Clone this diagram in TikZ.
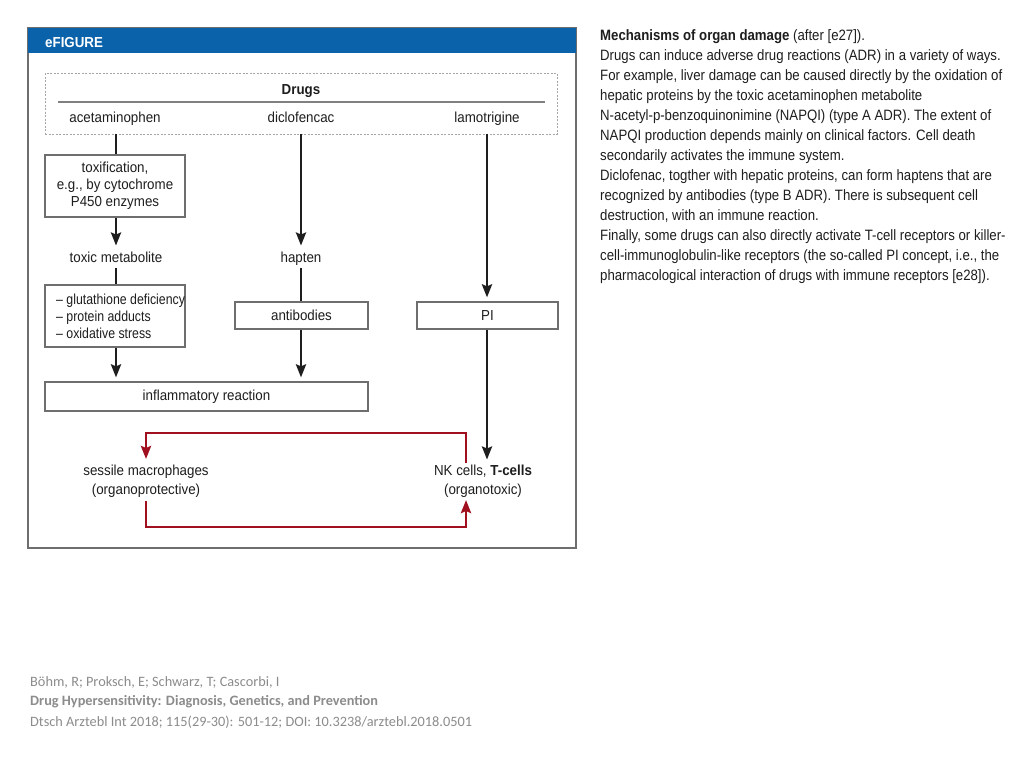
\documentclass[tikz,border=0pt]{standalone}
\usepackage{fontspec}
\setmainfont{Liberation Sans}
\newfontfamily\diag{Liberation Sans}[FakeStretch=0.92]
\newfontfamily\diagn{Liberation Sans}[FakeStretch=0.85]
\newfontfamily\bodyf{Liberation Sans}[FakeStretch=0.88]
\newfontfamily\footf{Carlito}
\usetikzlibrary{arrows.meta}
\definecolor{hdrblue}{RGB}{10,98,170}
\definecolor{darkred}{RGB}{160,16,30}
\definecolor{framegray}{RGB}{110,110,110}
\definecolor{footgray}{RGB}{140,140,140}
\definecolor{inkc}{RGB}{30,30,30}
\begin{document}
\begin{tikzpicture}[x=1pt,y=-1pt,
  lbl/.style={font=\diag\fontsize{14.5}{17}\selectfont, inner sep=1pt, text=inkc, align=center},
  oneline/.style={lbl, text height=10.5pt, text depth=3pt},
  box/.style={lbl, draw=framegray, line width=1.2pt, inner sep=0pt},
  conn/.style={line width=2.8pt, inkc},
  arr/.style={conn, -{Stealth[length=13pt,width=10pt,inset=2pt]}},
  redarr/.style={line width=2.8pt, darkred, -{Stealth[length=13pt,width=10pt,inset=2pt]}}
]
\useasboundingbox (0,0) rectangle (1024,768);
\fill[white] (0,0) rectangle (1024,768);

% frame and header
\draw[framegray, line width=1.2pt] (28,28) rectangle (576,548);
\fill[hdrblue] (28,28) rectangle (576,53.5);
\node[anchor=west, text=white, font=\diag\fontsize{14.5}{17}\bfseries\selectfont, inner sep=0pt] (hdr) at (45,43) {eFIGURE};

% drugs box
\node[draw=gray!70, line width=0.9pt, dash pattern=on 2pt off 1.5pt, minimum width=512, minimum height=61, inner sep=0pt] (drugsbox) at (301,103.5) {};
\node[oneline, font=\diag\fontsize{14.5}{17}\bfseries\selectfont] (drugs) at (301,90.5) {Drugs};
\draw[gray, line width=1.2pt] (58,102) coordinate (rulel) -- (545,102) coordinate (ruler);
\node[oneline] (acet) at (115,119) {acetaminophen};
\node[oneline] (dicl) at (301,119) {diclofencac};
\node[oneline] (lamo) at (487,119) {lamotrigine};
\coordinate (a0) at (116,134);
\coordinate (d0) at (301,134);
\coordinate (l0) at (487,134);

% left column
\node[box, minimum width=140, minimum height=62] (tox) at (115,186) {toxification,\\e.g., by cytochrome\\P450 enzymes};
\node[oneline] (toxmet) at (116,258.5) {toxic metabolite};
\node[box, minimum width=140, minimum height=62, align=left] (glu) at (115,316) {};
\node[anchor=west, inner sep=0pt, align=left, text=inkc, font=\diagn\fontsize{14.5}{17}\selectfont] (glutext) at (56,316) {– glutathione deficiency\\– protein adducts\\– oxidative stress};
\node[box, minimum width=323, minimum height=29] (infl) at (206.5,396.5) {inflammatory reaction};

% middle column
\node[oneline] (hapten) at (301,258.5) {hapten};
\node[box, minimum width=133, minimum height=27] (antib) at (301.5,315.5) {antibodies};

% right column
\node[box, minimum width=141, minimum height=27] (pi) at (487.5,315.5) {PI};

% bottom cells
\node[lbl, font=\diag\fontsize{14.5}{19}\selectfont] (sess) at (146,481) {sessile macrophages\\(organoprotective)};
\node[lbl, font=\diag\fontsize{14.5}{19}\selectfont] (nk) at (483,481) {NK cells, \textbf{T-cells}\\(organotoxic)};

% black connectors
\draw[conn] (a0) -- (tox.north -| a0);
\draw[arr, shorten >=5pt] (tox.south -| a0) -- (toxmet.north -| a0);
\draw[conn, shorten <=2pt] (toxmet.south -| a0) -- (glu.north -| a0);
\draw[arr, shorten >=4pt] (glu.south -| a0) -- (infl.north -| a0);

\draw[arr, shorten >=5pt] (d0) -- (hapten.north -| d0);
\draw[conn, shorten <=2pt] (hapten.south -| d0) -- (antib.north -| d0);
\draw[arr, shorten >=4pt] (antib.south -| d0) -- (infl.north -| d0);

\draw[arr, shorten >=4pt] (l0) -- (pi.north -| l0);
\draw[arr, shorten >=4pt] (pi.south -| l0) -- (nk.north -| l0);

% red feedback loop
\draw[redarr] (466,463) -- (466,433) -- (146,433) -- (146,459);
\draw[redarr] (146,501) -- (146,527) -- (466,527) -- (466,500);

% description text
\node[anchor=north west, inner sep=0pt, align=left, text=inkc, font=\bodyf\fontsize{15}{20}\selectfont] (desc) at (600,29) {%
\textbf{Mechanisms of organ damage} (after [e27]).\\
Drugs can induce adverse drug reactions (ADR) in a variety of ways.\\
For example, liver damage can be caused directly by the oxidation of\\
hepatic proteins by the toxic acetaminophen metabolite\\
N-acetyl-p-benzoquinonimine (NAPQI) (type A ADR). The extent of\\
NAPQI production depends mainly on clinical factors. Cell death\\
secondarily activates the immune system.\\
Diclofenac, togther with hepatic proteins, can form haptens that are\\
recognized by antibodies (type B ADR). There is subsequent cell\\
destruction, with an immune reaction.\\
Finally, some drugs can also directly activate T-cell receptors or killer-\\
cell-immunoglobulin-like receptors (the so-called PI concept, i.e., the\\
pharmacological interaction of drugs with immune receptors [e28]).};

% footer
\node[anchor=west, inner sep=0pt, text=footgray, font=\footf\fontsize{14.3}{16}\selectfont] (f1) at (30,682) {Böhm, R; Proksch, E; Schwarz, T; Cascorbi, I};
\node[anchor=west, inner sep=0pt, text=footgray, font=\footf\fontsize{14.3}{16}\bfseries\selectfont] (f2) at (30,702) {Drug Hypersensitivity: Diagnosis, Genetics, and Prevention};
\node[anchor=west, inner sep=0pt, text=footgray, font=\footf\fontsize{14.3}{16}\selectfont] (f3) at (30,722) {Dtsch Arztebl Int 2018; 115(29-30): 501-12; DOI: 10.3238/arztebl.2018.0501};
\end{tikzpicture}
\end{document}
